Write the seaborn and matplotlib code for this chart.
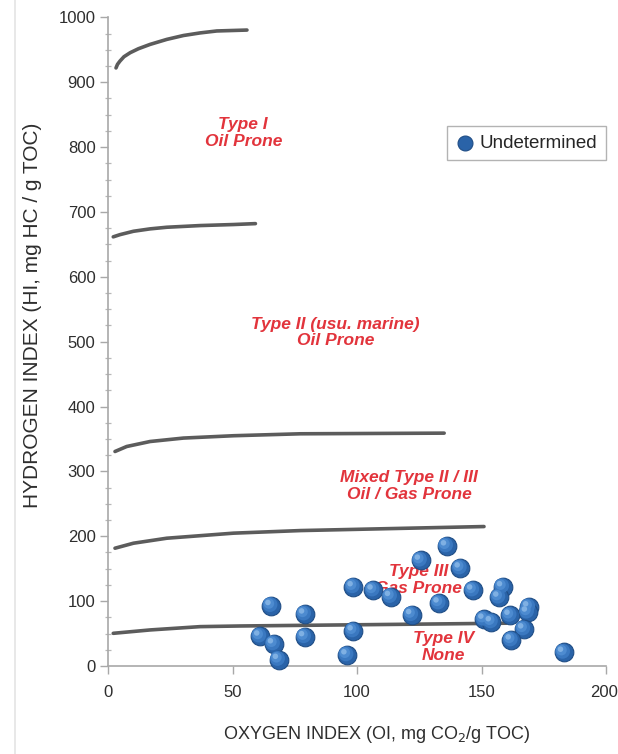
import matplotlib
matplotlib.use("Agg")
import matplotlib.pyplot as plt
import matplotlib.transforms as mtransforms
from matplotlib.lines import Line2D
import seaborn as sns
import pandas as pd

# Rock-Eval samples: oxygen index (OI) and hydrogen index (HI)
oi = [65.5, 61, 66.5, 68.5, 79, 79, 98.5, 98.5, 96, 106.5, 113.5, 122, 125.5,
      136, 141.5, 146.5, 133, 158.5, 157, 169, 168.5, 151, 154, 161.5, 167, 162, 183]
hi = [93, 46, 34, 10, 80, 45, 122, 54, 17, 117, 107, 79, 163,
      185, 151, 117, 97, 122, 106, 91, 83, 72, 68, 78, 57, 40, 21]

# Kerogen-type boundary curves (OI, HI)
b1_oi = [3.2, 3.8, 4.8, 6.4, 8.9, 12.2, 16.9, 23.6, 30.3, 37.0, 43.7, 55.8]
b1_hi = [922, 927.5, 932.6, 939.3, 945.5, 951.6, 958.3, 966, 972, 976, 979, 980.4]
b2_oi = [2.1, 4.8, 10.2, 16.9, 23.6, 37.0, 50.4, 59.2]
b2_hi = [661.6, 665, 670.2, 673.9, 676.4, 679, 680.6, 682]
b3_oi = [2.8, 7.5, 16.9, 30.3, 50.4, 77.3, 135.0]
b3_hi = [330.7, 338.4, 346.1, 351.4, 355, 358, 359]
b4_oi = [2.8, 10.2, 23.6, 50.4, 77.3, 151.0]
b4_hi = [181.6, 189.3, 197, 204.8, 208.8, 215]
b5_oi = [2.1, 16.9, 37.0, 53.0, 131.0, 160.0]
b5_hi = [50.4, 55.6, 60.7, 61.7, 64.8, 66]

zone_labels = ["Type I\nOil Prone", "Type II (usu. marine)\nOil Prone",
               "Mixed Type II / III\nOil / Gas Prone", "Type III\nGas Prone",
               "Type IV\nNone"]
zone_oi = [54.3, 91.3, 121, 124.7, 134.8]
zone_hi = [822, 514, 278, 133, 29]

x_ticks = [0, 50, 100, 150, 200]
y_ticks = [0, 100, 200, 300, 400, 500, 600, 700, 800, 900, 1000]

sns.set_style("white")
plt.rcParams["font.family"] = ["Liberation Sans", "DejaVu Sans"]

fig = plt.figure(figsize=(6.18, 7.54), dpi=100)
ax = fig.add_axes([0.1748, 0.1167, 0.8058, 0.8603])

# page edge on the left
fig.add_artist(Line2D([15 / 618, 15 / 618], [0, 1], color="#e4e4e4", lw=1.2,
                      transform=fig.transFigure))

curve_color = "#5c5c5c"
for bx, by in [(b1_oi, b1_hi), (b2_oi, b2_hi), (b3_oi, b3_hi),
               (b4_oi, b4_hi), (b5_oi, b5_hi)]:
    sns.lineplot(x=bx, y=by, ax=ax, color=curve_color, lw=2.6, sort=False,
                 estimator=None, legend=False, zorder=2,
                 solid_joinstyle="round", solid_capstyle="round")

for txt, tx, ty in zip(zone_labels, zone_oi, zone_hi):
    ax.text(tx, ty, txt, color="#e2343c", fontsize=12.5, fontweight="bold",
            fontstyle="italic", ha="center", va="center", linespacing=1.15,
            zorder=3)

df = pd.DataFrame({"OI": oi, "HI": hi})

# shaded spheres: a dark base disc plus lighter inner layers shifted up-left
sns.scatterplot(data=df, x="OI", y="HI", ax=ax, s=180, color="#2a63a8",
                edgecolor="#1f4d85", linewidth=0.8, label="Undetermined",
                zorder=4, clip_on=False)
layers = [(115, "#3a78c0", -0.8, 0.8), (58, "#4d8bd0", -1.6, 1.6),
          (16, "#7fb0e3", -2.3, 2.3)]
for size, col, dx, dy in layers:
    off = mtransforms.offset_copy(ax.transData, fig=fig, x=dx, y=dy,
                                  units="points")
    sns.scatterplot(data=df, x="OI", y="HI", ax=ax, s=size, color=col,
                    edgecolor="none", linewidth=0, legend=False, zorder=5,
                    transform=off, clip_on=False)

ax.set_xlim(0, 200)
ax.set_ylim(0, 1000)
ax.set_xticks(x_ticks)
ax.set_yticks(y_ticks)
ax.set_yticks(range(0, 1001, 25), minor=True)

for side in ["top", "right"]:
    ax.spines[side].set_visible(False)
for side in ["left", "bottom"]:
    ax.spines[side].set_color("#a8a8a8")
    ax.spines[side].set_linewidth(1.2)

ax.tick_params(axis="both", which="major", labelsize=12, labelcolor="#2e2e2e",
               color="#a8a8a8", width=1.0)
ax.tick_params(axis="y", which="major", direction="out", length=6, left=True, pad=3)
ax.tick_params(axis="y", which="minor", direction="inout", length=4, left=True,
               color="#b8b8b8", width=0.9)
ax.tick_params(axis="x", which="major", direction="out", length=6, bottom=True, pad=8)

# keep the last x tick label inside the page edge
fig.canvas.draw()
last_lbl = ax.get_xticklabels()[-1]
last_lbl.set_horizontalalignment("right")
last_lbl.set_transform(last_lbl.get_transform() +
                       mtransforms.ScaledTranslation(12 / 100, 0, fig.dpi_scale_trans))

ax.set_xlabel("OXYGEN INDEX (OI, mg CO$_2$/g TOC)", fontsize=13, color="#2e2e2e")
ax.set_ylabel("HYDROGEN INDEX (HI, mg HC / g TOC)", fontsize=15, color="#2e2e2e")
ax.xaxis.set_label_coords(0.54, -0.09)
ax.yaxis.set_label_coords(-0.133, 0.54)

leg = ax.legend(loc="upper right", bbox_to_anchor=(1.0, 0.832), frameon=True,
                fancybox=False, edgecolor="#a0a0a0", fontsize=13.5,
                handletextpad=0.3, borderpad=0.45, handlelength=1.0,
                borderaxespad=0, markerscale=0.8)
leg.get_frame().set_linewidth(1.0)

fig.savefig("out.png", dpi=100)
